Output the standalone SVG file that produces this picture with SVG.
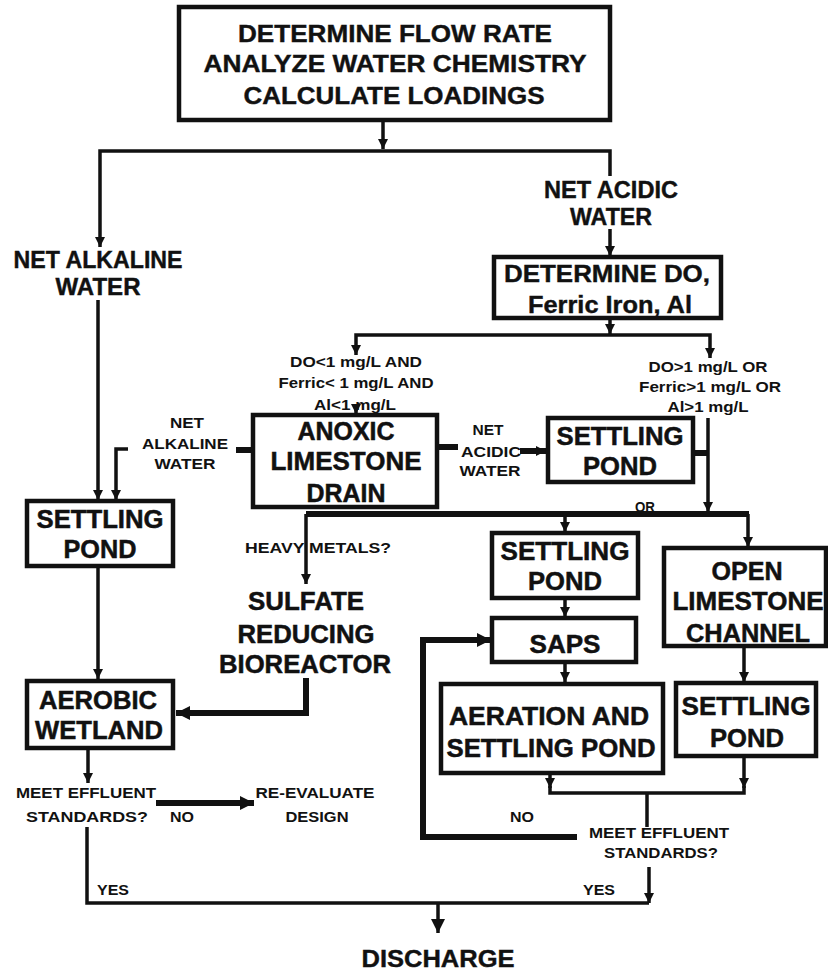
<svg xmlns="http://www.w3.org/2000/svg" width="828" height="972" viewBox="0 0 828 972">
<defs>
<style>
.bx{fill:#fff;stroke:#111;stroke-width:4.5}
.c{fill:none;stroke:#111;stroke-width:3.5}
.ct{fill:none;stroke:#111;stroke-width:6}
text{font-family:"Liberation Sans",Arial,sans-serif;font-weight:bold;fill:#111;text-anchor:middle}
.L{font-size:26px;stroke:#111;stroke-width:0.5}
.M{font-size:24px;stroke:#111;stroke-width:0.4}
.N{font-size:23px;stroke:#111;stroke-width:0.4}
.S{font-size:15px}
</style>
<marker id="a" viewBox="0 0 10 10" refX="10" refY="5" markerWidth="10" markerHeight="10" markerUnits="userSpaceOnUse" orient="auto"><path d="M0,0 L10,5 L0,10 z" fill="#111"/></marker>
<marker id="ab" viewBox="0 0 10 10" refX="10" refY="5" markerWidth="14" markerHeight="14" markerUnits="userSpaceOnUse" orient="auto"><path d="M0,0 L10,5 L0,10 z" fill="#111"/></marker>
</defs>
<rect width="828" height="972" fill="#fff"/>

<g id="connectors">
<path class="c" d="M383,120 V149" marker-end="url(#a)"/>
<path class="c" d="M383,151 H100 V247" marker-end="url(#a)"/>
<path class="c" d="M383,151 H610 V176"/>
<path class="c" d="M610,229 V256" marker-end="url(#a)"/>
<path class="c" d="M98,300 V500" marker-end="url(#a)"/>
<path class="c" d="M610,319 V334" marker-end="url(#a)"/>
<path class="c" d="M610,335 H356 V355" marker-end="url(#a)"/>
<path class="c" d="M610,335 H710 V358" marker-end="url(#a)"/>
<path class="c" d="M356,408 V414" marker-end="url(#a)"/>
<path class="ct" d="M253,450 H236"/>
<path class="c" d="M128,449 H116 V500" marker-end="url(#a)"/>
<path class="ct" d="M437,447 H458"/>
<path class="ct" d="M520,451 H546" marker-end="url(#a)"/>
<path class="ct" d="M692,453 H708"/>
<path class="c" d="M708,418 V512" marker-end="url(#a)"/>
<path class="ct" d="M306,514 H749"/>
<path class="c" d="M306,514 V584" marker-end="url(#a)"/>
<path class="c" d="M565,514 V532" marker-end="url(#a)"/>
<path class="c" d="M748,514 V547" marker-end="url(#a)"/>
<path class="c" d="M565,598 V617" marker-end="url(#a)"/>
<path class="c" d="M565,662 V682" marker-end="url(#a)"/>
<path class="c" d="M744,646 V682" marker-end="url(#a)"/>
<path class="c" d="M98,567 V679" marker-end="url(#a)"/>
<path class="ct" d="M306,678 V713 H176" marker-end="url(#ab)"/>
<path class="c" d="M88,749 V783" marker-end="url(#a)"/>
<path class="ct" d="M156,803 H254" marker-end="url(#ab)"/>
<path class="c" d="M87,827 V903 H649"/>
<path class="c" d="M649,867 V903" marker-end="url(#a)"/>
<path class="c" d="M438,903 V933" marker-end="url(#ab)"/>
<path class="c" d="M550,774 V788" marker-end="url(#a)"/>
<path class="c" d="M744,756 V788" marker-end="url(#a)"/>
<path class="c" d="M550,786 V793 H744 V786"/>
<path class="c" d="M647,793 V827"/>
<path class="ct" d="M577,837 H423 V640 H491" marker-end="url(#ab)"/>
</g>

<g id="n-top">
<rect class="bx" x="179" y="7" width="431" height="113"/>
<text class="M" x="395" y="42" textLength="314" lengthAdjust="spacingAndGlyphs">DETERMINE FLOW RATE</text>
<text class="M" x="395" y="72" textLength="383" lengthAdjust="spacingAndGlyphs">ANALYZE WATER CHEMISTRY</text>
<text class="M" x="394" y="104" textLength="301" lengthAdjust="spacingAndGlyphs">CALCULATE LOADINGS</text>
</g>

<g id="n-netalk">
<text class="N" x="98" y="268" textLength="169" lengthAdjust="spacingAndGlyphs">NET ALKALINE</text>
<text class="N" x="98" y="295" textLength="85" lengthAdjust="spacingAndGlyphs">WATER</text>
</g>

<g id="n-netacid">
<text class="N" x="611" y="198" textLength="134" lengthAdjust="spacingAndGlyphs">NET ACIDIC</text>
<text class="N" x="611" y="225" textLength="82" lengthAdjust="spacingAndGlyphs">WATER</text>
</g>

<g id="n-detdo">
<rect class="bx" x="494" y="257" width="227" height="61"/>
<text class="M" x="607" y="282" textLength="206" lengthAdjust="spacingAndGlyphs">DETERMINE DO,</text>
<text class="M" x="610" y="313" textLength="164" lengthAdjust="spacingAndGlyphs">Ferric Iron, Al</text>
</g>

<g id="n-cond1">
<text class="S" x="356" y="367" textLength="132" lengthAdjust="spacingAndGlyphs">DO&lt;1 mg/L AND</text>
<text class="S" x="356" y="388" textLength="155" lengthAdjust="spacingAndGlyphs">Ferric&lt; 1 mg/L AND</text>
<text class="S" x="355" y="410" textLength="82" lengthAdjust="spacingAndGlyphs">Al&lt;1 mg/L</text>
</g>

<g id="n-cond2">
<text class="S" x="708" y="372" textLength="119" lengthAdjust="spacingAndGlyphs">DO&gt;1 mg/L OR</text>
<text class="S" x="710" y="392" textLength="142" lengthAdjust="spacingAndGlyphs">Ferric&gt;1 mg/L OR</text>
<text class="S" x="708" y="412" textLength="81" lengthAdjust="spacingAndGlyphs">Al&gt;1 mg/L</text>
</g>

<g id="n-ald">
<rect class="bx" x="253" y="415" width="184" height="92"/>
<text class="L" x="346" y="440" textLength="97" lengthAdjust="spacingAndGlyphs">ANOXIC</text>
<text class="L" x="346" y="470" textLength="151" lengthAdjust="spacingAndGlyphs">LIMESTONE</text>
<text class="L" x="346" y="502" textLength="79" lengthAdjust="spacingAndGlyphs">DRAIN</text>
</g>

<g id="l-ald-alk">
<text class="S" x="187" y="428" textLength="34" lengthAdjust="spacingAndGlyphs">NET</text>
<text class="S" x="185" y="449" textLength="86" lengthAdjust="spacingAndGlyphs">ALKALINE</text>
<text class="S" x="185" y="469" textLength="61" lengthAdjust="spacingAndGlyphs">WATER</text>
</g>

<g id="l-ald-acid">
<text class="S" x="488" y="435" textLength="31" lengthAdjust="spacingAndGlyphs">NET</text>
<text class="S" x="491" y="457" textLength="60" lengthAdjust="spacingAndGlyphs">ACIDIC</text>
<text class="S" x="490" y="476" textLength="61" lengthAdjust="spacingAndGlyphs">WATER</text>
</g>

<g id="n-pond-a">
<rect class="bx" x="548" y="418" width="145" height="64"/>
<text class="L" x="620" y="445" textLength="127" lengthAdjust="spacingAndGlyphs">SETTLING</text>
<text class="L" x="620" y="475" textLength="74" lengthAdjust="spacingAndGlyphs">POND</text>
</g>

<g id="n-pond-left">
<rect class="bx" x="27" y="501" width="146" height="65"/>
<text class="L" x="100" y="528" textLength="127" lengthAdjust="spacingAndGlyphs">SETTLING</text>
<text class="L" x="100" y="558" textLength="73" lengthAdjust="spacingAndGlyphs">POND</text>
</g>

<g id="l-or">
<text class="S" x="645" y="512" textLength="20" lengthAdjust="spacingAndGlyphs">OR</text>
<text class="S" x="318" y="553" textLength="146" lengthAdjust="spacingAndGlyphs">HEAVY METALS?</text>
</g>

<g id="n-pond-mid">
<rect class="bx" x="492" y="533" width="146" height="65"/>
<text class="L" x="565" y="560" textLength="129" lengthAdjust="spacingAndGlyphs">SETTLING</text>
<text class="L" x="565" y="590" textLength="74" lengthAdjust="spacingAndGlyphs">POND</text>
</g>

<g id="n-olc">
<rect class="bx" x="664" y="548" width="162" height="98"/>
<text class="L" x="747" y="580" textLength="71" lengthAdjust="spacingAndGlyphs">OPEN</text>
<text class="L" x="748" y="610" textLength="151" lengthAdjust="spacingAndGlyphs">LIMESTONE</text>
<text class="L" x="748" y="642" textLength="124" lengthAdjust="spacingAndGlyphs">CHANNEL</text>
</g>

<g id="n-srb">
<text class="L" x="306" y="610" textLength="116" lengthAdjust="spacingAndGlyphs">SULFATE</text>
<text class="L" x="306" y="643" textLength="137" lengthAdjust="spacingAndGlyphs">REDUCING</text>
<text class="L" x="305" y="673" textLength="172" lengthAdjust="spacingAndGlyphs">BIOREACTOR</text>
</g>

<g id="n-saps">
<rect class="bx" x="492" y="618" width="144" height="44"/>
<text class="L" x="565" y="653" textLength="71" lengthAdjust="spacingAndGlyphs">SAPS</text>
</g>

<g id="n-aerobic">
<rect class="bx" x="27" y="681" width="146" height="67"/>
<text class="L" x="98" y="709" textLength="118" lengthAdjust="spacingAndGlyphs">AEROBIC</text>
<text class="L" x="99" y="739" textLength="128" lengthAdjust="spacingAndGlyphs">WETLAND</text>
</g>

<g id="n-aeration">
<rect class="bx" x="441" y="684" width="222" height="89"/>
<text class="L" x="549" y="725" textLength="200" lengthAdjust="spacingAndGlyphs">AERATION AND</text>
<text class="L" x="551" y="757" textLength="209" lengthAdjust="spacingAndGlyphs">SETTLING POND</text>
</g>

<g id="n-pond-right">
<rect class="bx" x="676" y="683" width="140" height="73"/>
<text class="L" x="746" y="715" textLength="129" lengthAdjust="spacingAndGlyphs">SETTLING</text>
<text class="L" x="747" y="747" textLength="74" lengthAdjust="spacingAndGlyphs">POND</text>
</g>

<g id="n-meet1">
<text class="S" x="86" y="798" textLength="140" lengthAdjust="spacingAndGlyphs">MEET EFFLUENT</text>
<text class="S" x="87" y="822" textLength="122" lengthAdjust="spacingAndGlyphs">STANDARDS?</text>
</g>

<g id="n-reeval">
<text class="S" x="315" y="798" textLength="119" lengthAdjust="spacingAndGlyphs">RE-EVALUATE</text>
<text class="S" x="317" y="822" textLength="63" lengthAdjust="spacingAndGlyphs">DESIGN</text>
</g>

<g id="n-meet2">
<text class="S" x="659" y="838" textLength="140" lengthAdjust="spacingAndGlyphs">MEET EFFLUENT</text>
<text class="S" x="661" y="858" textLength="114" lengthAdjust="spacingAndGlyphs">STANDARDS?</text>
</g>

<g id="labels">
<text class="S" x="182" y="822" textLength="24" lengthAdjust="spacingAndGlyphs">NO</text>
<text class="S" x="522" y="822" textLength="24" lengthAdjust="spacingAndGlyphs">NO</text>
<text class="S" x="113" y="895" textLength="32" lengthAdjust="spacingAndGlyphs">YES</text>
<text class="S" x="599" y="895" textLength="32" lengthAdjust="spacingAndGlyphs">YES</text>
</g>

<g id="n-discharge">
<text class="M" x="438" y="967" textLength="153" lengthAdjust="spacingAndGlyphs">DISCHARGE</text>
</g>
</svg>
